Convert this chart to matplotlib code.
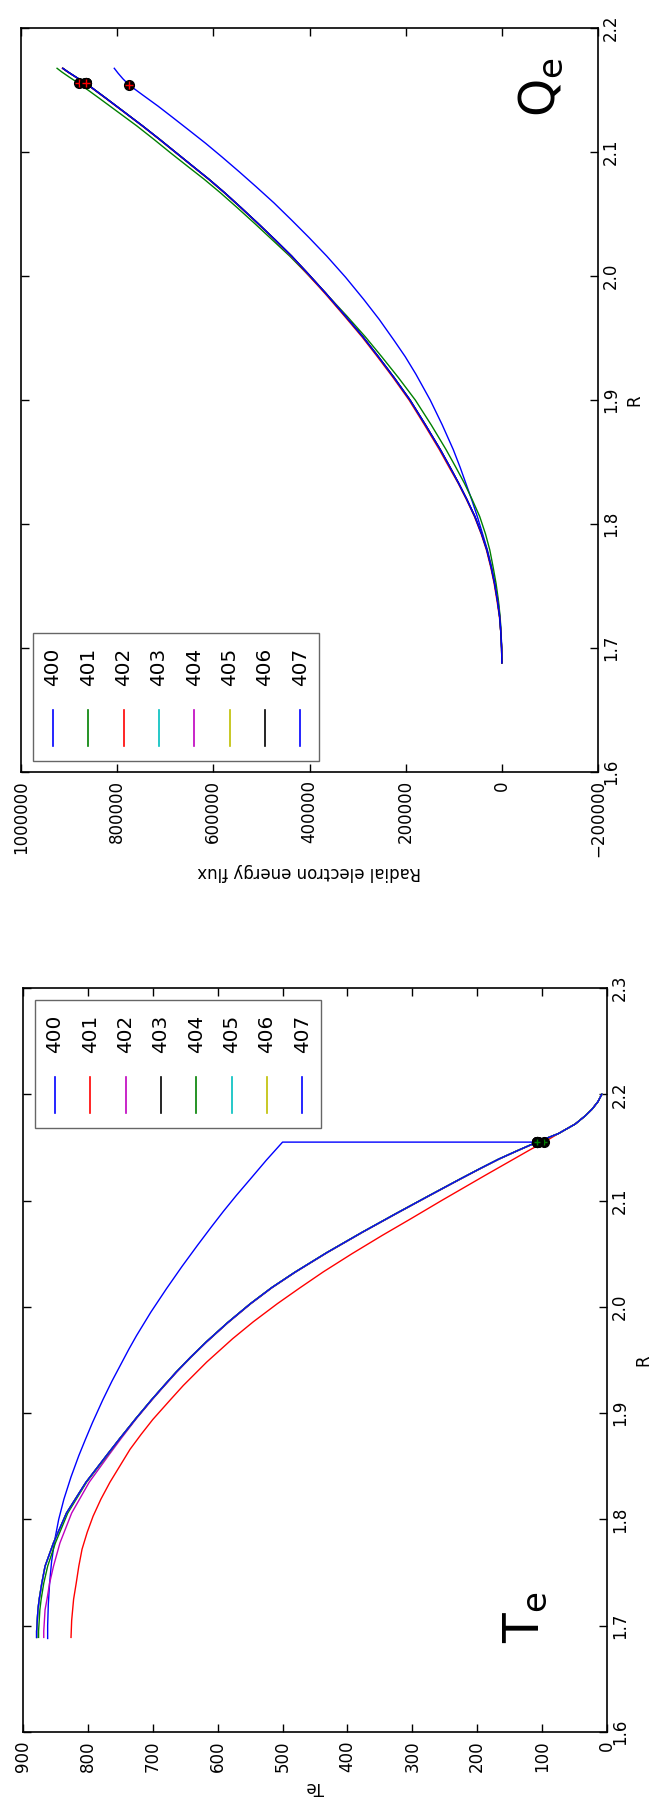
import numpy as np
import matplotlib
matplotlib.use('Agg')
import matplotlib.pyplot as plt
from matplotlib.patches import Rectangle
from matplotlib.lines import Line2D

plt.rcParams['font.family'] = 'DejaVu Sans'
plt.rcParams['mathtext.fontset'] = 'dejavusans'

# run numbers and line colours (same order as the legends)
runs = ['400', '401', '402', '403', '404', '405', '406', '407']
te_colors = ['b', 'r', 'm', 'k', 'g', 'c', 'y', 'b']
qe_colors = ['b', 'g', 'r', 'c', 'm', 'y', 'k', 'b']

#########################
#  Te profiles (eV)     #
#########################
r_te = [1.689, 1.695, 1.705, 1.715, 1.725, 1.740, 1.756, 1.778, 1.806, 1.835, 1.862, 1.876,
        1.895, 1.9125, 1.925, 1.9386, 1.9525, 1.9668, 1.985, 2.0028, 2.018, 2.0326, 2.051,
        2.0703, 2.0875, 2.1047, 2.1204, 2.130, 2.139, 2.147, 2.155, 2.163, 2.172, 2.180,
        2.186, 2.193, 2.200]
te_407 = [879, 879, 878, 877, 875, 871, 866, 853, 833, 803, 769, 751,
          726, 702, 684, 664, 642, 618, 585, 550, 517, 481, 432,
          377, 326, 274, 226, 196, 167, 138, 108, 75, 49, 33,
          23, 14, 8]
te_404 = [876, 876, 875, 874, 872, 868, 862, 850, 831, 802, 768, 751,
          726, 702, 684, 664, 642, 618, 585, 550, 517, 481, 432,
          377, 326, 274, 226, 196, 167, 138, 108, 75, 49, 33,
          23, 14, 8]
te_402 = [868, 868, 867, 866, 863, 859, 853, 843, 825, 798, 766, 749,
          725, 701, 683, 663, 641, 617, 584, 549, 516, 480, 431,
          376, 325, 273, 225, 195, 166, 137, 107, 75, 49, 33,
          23, 14, 8]

r_te_401 = [1.689, 1.705, 1.725, 1.740, 1.756, 1.772, 1.788, 1.803, 1.819, 1.835, 1.850,
            1.866, 1.880, 1.894, 1.9125, 1.926, 1.948, 1.970, 1.986, 2.003, 2.018, 2.033,
            2.050, 2.067, 2.083, 2.100, 2.112, 2.124, 2.132, 2.140, 2.148, 2.155, 2.163,
            2.172, 2.180, 2.186, 2.193, 2.200]
te_401 = [826, 825, 822, 818, 814, 809, 801, 792, 780, 766, 751,
          735, 718, 700, 673, 653, 617, 577, 545, 508, 473, 437,
          393, 347, 302, 255, 221, 187, 164, 141, 118, 97, 75,
          49, 33, 23, 14, 8]

r_te_400 = [1.688, 1.700, 1.720, 1.740, 1.760, 1.781, 1.800, 1.819, 1.840, 1.860, 1.875,
            1.891, 1.9125, 1.930, 1.945, 1.960, 1.973, 1.995, 2.017, 2.038, 2.058, 2.075,
            2.090, 2.105, 2.120, 2.138, 2.155, 2.155, 2.163, 2.172, 2.180, 2.186, 2.193,
            2.200]
te_400 = [862, 862, 861, 859, 856, 851, 845, 837, 826, 814, 804,
          793, 777, 763, 750, 737, 725, 703, 679, 655, 631, 610,
          591, 571, 550, 525, 500, 108, 75, 49, 33, 23, 14,
          8]

te_r = [r_te_400, r_te_401, r_te, r_te, r_te, r_te, r_te, r_te]
te_v = [te_400, te_401, te_402, te_407, te_404, te_407, te_407, te_407]

#########################################
#  Radial electron energy flux (kW)     #
#########################################
r_q = [1.688, 1.700, 1.712, 1.725, 1.738, 1.752, 1.765, 1.779, 1.792, 1.806, 1.820,
       1.833, 1.846, 1.860, 1.880, 1.900, 1.918, 1.935, 1.951, 1.968, 1.986, 2.001,
       2.016, 2.029, 2.042, 2.055, 2.067, 2.078, 2.088, 2.099, 2.110, 2.121, 2.131,
       2.143, 2.1554, 2.1605, 2.1645, 2.1675]
q_407 = [0, 0.5, 2, 4.5, 9, 15, 22, 31, 42, 56, 73,
         90, 108, 128, 159, 191, 224, 257, 289, 326, 366, 401,
         437, 471, 506, 542, 576, 609, 641, 676, 711, 747, 781,
         822, 865, 886, 902, 913]
q_401 = [0, 0.4, 1.5, 3.5, 7, 12, 18, 25, 34, 46, 62,
         78, 96, 116, 147, 180, 215, 250, 284, 323, 366, 403,
         441, 477, 513, 550, 585, 619, 652, 688, 723, 759, 794,
         836, 880, 900, 915, 925]
q_402 = [0, 0.5, 2, 5, 10, 16, 23, 32, 43, 57, 74,
         91, 110, 130, 161, 193, 226, 259, 291, 328, 368, 403,
         438, 472, 507, 543, 577, 610, 642, 677, 712, 748, 782,
         823, 866, 887, 903, 914]

r_q_400 = [1.688, 1.700, 1.712, 1.725, 1.738, 1.752, 1.765, 1.779, 1.792, 1.806, 1.820,
           1.833, 1.846, 1.860, 1.880, 1.900, 1.921, 1.935, 1.948, 1.965, 1.981, 1.999,
           2.016, 2.031, 2.045, 2.059, 2.072, 2.084, 2.096, 2.107, 2.118, 2.128, 2.137,
           2.146, 2.154, 2.159, 2.1635, 2.1675]
q_400 = [0, 0.4, 1.5, 4, 8, 14, 21, 30, 40, 51, 63,
         75, 87, 101, 124, 149, 179, 201, 224, 255, 287, 325,
         364, 401, 437, 474, 511, 546, 582, 616, 652, 685, 715,
         747, 775, 788, 798, 806]

q_r = [r_q_400, r_q, r_q, r_q, r_q, r_q, r_q, r_q]
q_v = [q_400, q_401, q_402, q_407, q_407, q_407, q_407, q_407]

r_sep_te = 2.155
r_sep_q = [2.154, 2.1554, 2.1554, 2.1554, 2.1554, 2.1554, 2.1554, 2.1554]


def style_axes(ax, xticks, xlabels, yticks):
    ax.set_xticks(xticks)
    ax.set_xticklabels(xlabels)
    ax.set_yticks(yticks)
    ax.set_yticklabels(['%.1f' % v for v in yticks])
    ax.tick_params(direction='in', length=6, width=1, top=True, bottom=True,
                   left=True, right=True, labelleft=False, labelright=True,
                   labelsize=12)
    ax.tick_params(axis='x', labelrotation=90, pad=6)
    ax.tick_params(axis='y', labelrotation=90, pad=3)
    for lbl in ax.get_yticklabels():
        lbl.set_verticalalignment('center')
    ax.yaxis.set_label_position('right')
    for s in ax.spines.values():
        s.set_linewidth(1.2)


def draw_key(ax, labels, colors, left, top):
    # legend drawn by hand: vertical line segments with the run number above
    w = ax.bbox.width
    h = ax.bbox.height
    fx = lambda px: px / w
    fy = lambda py: 1 - py / h
    box = Rectangle((fx(left), fy(top + 128)), fx(286), 128 / h, transform=ax.transAxes,
                    facecolor='white', edgecolor='0.4', linewidth=1.0, zorder=5)
    ax.add_patch(box)
    for i, (lab, c) in enumerate(zip(labels, colors)):
        x = fx(left + 20 + 35.3 * i)
        ax.add_line(Line2D([x, x], [fy(top + 77), fy(top + 113)], color=c, lw=1.2,
                           transform=ax.transAxes, zorder=6))
        ax.text(x, fy(top + 53), lab, rotation=90, fontsize=14.4, ha='center',
                va='bottom', transform=ax.transAxes, zorder=6)


fig = plt.figure(figsize=(6.53, 18.14), dpi=100)
ax_q = fig.add_axes([21 / 653, 1 - 772 / 1814, 577 / 653, 744 / 1814])
ax_t = fig.add_axes([23 / 653, 1 - 1732 / 1814, 584 / 653, 744 / 1814])

# ---- Te panel ----
for r, v, c in zip(te_r, te_v, te_colors):
    ax_t.plot(v, r, color=c, lw=1.0)
for r, v in zip(te_r, te_v):
    i = len(r) - 1 - r[::-1].index(r_sep_te)
    ax_t.plot(v[i], r[i], 'o', color='k', ms=7, zorder=4)
    ax_t.plot(v[i], r[i], '+', color='g', ms=5, mew=1, zorder=4)
ax_t.set_xlim(900, 0)
ax_t.set_ylim(1.6, 2.3)
style_axes(ax_t, np.arange(0, 901, 100), [str(v) for v in range(0, 901, 100)],
           np.arange(1.6, 2.31, 0.1))
ax_t.set_ylabel('R', rotation=90, fontsize=12, labelpad=4)
ax_t.set_xlabel('Te', fontsize=12, labelpad=4)
ax_t.xaxis.label.set_rotation(180)
ax_t.text(0.86, 0.12, r'$\mathrm{T_e}$', rotation=90, fontsize=35, ha='center',
          va='bottom', transform=ax_t.transAxes)
draw_key(ax_t, runs, te_colors, 12, 12)

# ---- Qe panel ----
for r, v, c in zip(q_r, q_v, qe_colors):
    ax_q.plot(np.array(v) * 1e3, r, color=c, lw=1.0)
for r, v, rs in zip(q_r, q_v, r_sep_q):
    i = r.index(rs)
    ax_q.plot(v[i] * 1e3, r[i], 'o', color='k', ms=7, zorder=4)
    ax_q.plot(v[i] * 1e3, r[i], '+', color='r', ms=6, mew=1, zorder=4)
ax_q.set_xlim(1000000, -200000)
ax_q.set_ylim(1.6, 2.2)
q_ticks = np.arange(-200000, 1000001, 200000)
style_axes(ax_q, q_ticks, [('%d' % v).replace('-', '\u2212') for v in q_ticks],
           np.arange(1.6, 2.21, 0.1))
ax_q.set_ylabel('R', rotation=90, fontsize=12, labelpad=4)
ax_q.set_xlabel('Radial electron energy flux', fontsize=12, labelpad=4)
ax_q.xaxis.label.set_rotation(180)
ax_q.text(0.90, 0.88, r'$\mathrm{Q_e}$', rotation=90, fontsize=35, ha='center',
          va='bottom', transform=ax_q.transAxes)
draw_key(ax_q, runs, qe_colors, 12, 744 - 11 - 128)

fig.savefig('out.png', dpi=100)
